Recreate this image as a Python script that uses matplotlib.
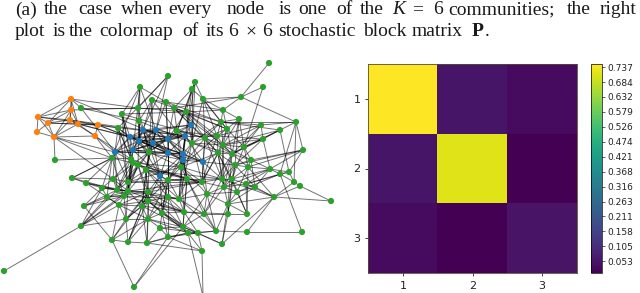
import matplotlib
matplotlib.use("Agg")
import matplotlib.pyplot as plt
import numpy as np

# node layout (orange 0-9, blue 10-24, green 25-127)
node_x = [71, 71, 38, 48, 70, 78, 98, 37, 54, 95,
          130, 143, 156, 139, 153, 168, 115, 133, 168, 160, 191, 185, 183, 183, 203,
          81, 140, 168, 152, 166, 138, 122, 139, 118, 55, 112, 149, 131, 133, 138,
          146, 72, 113, 86, 128, 102, 117, 128, 148, 124, 107, 168, 148, 84, 119,
          142, 162, 126, 148, 81, 160, 168, 112, 128, 147, 4, 134, 168, 195, 192,
          203, 174, 186, 241, 263, 223, 221, 239, 261, 296, 227, 280, 177, 217, 205,
          263, 192, 223, 244, 303, 218, 232, 251, 235, 248, 181, 270, 289, 280, 222,
          232, 187, 202, 224, 246, 255, 294, 300, 207, 237, 274, 331, 179, 228, 184,
          204, 228, 247, 183, 188, 198, 216, 247, 302, 222, 202, 269, 203]
node_y = [99, 110, 117, 123, 120, 124, 125, 132, 137, 136,
          137, 130, 130, 141, 143, 139, 152, 150, 153, 176, 125, 136, 154, 160, 162,
          108, 87, 76, 100, 102, 108, 114, 121, 128, 160, 158, 152, 159, 163, 165,
          170, 178, 179, 183, 182, 188, 190, 191, 192, 196, 197, 197, 201, 206, 205,
          206, 213, 219, 219, 226, 228, 237, 240, 242, 243, 271, 287, 180, 82, 89,
          99, 108, 112, 97, 87, 110, 122, 119, 125, 122, 129, 130, 131, 136, 138,
          139, 143, 145, 147, 150, 153, 154, 160, 165, 167, 167, 169, 172, 174, 179,
          179, 179, 182, 187, 184, 187, 182, 186, 194, 192, 197, 201, 199, 204, 212,
          214, 214, 214, 227, 233, 233, 231, 232, 232, 244, 251, 63, 296]
node_group = [1] * 10 + [0] * 15 + [2] * 103

edges = [
    # inside the orange community
    (0, 1), (0, 2), (0, 3), (0, 4), (0, 5), (1, 2), (1, 3), (1, 4), (1, 5), (1, 8),
    (2, 3), (2, 4), (2, 6), (2, 7), (2, 8), (3, 4), (3, 5), (3, 6), (3, 7), (3, 8),
    (4, 5), (4, 6), (4, 8), (4, 9), (5, 6), (5, 8), (5, 9), (6, 9), (7, 8), (8, 9),
    # orange to the rest
    (0, 25), (0, 30), (0, 15), (1, 30), (25, 30), (25, 16), (25, 32), (8, 34), (34, 35),
    (8, 16), (8, 35), (9, 35), (9, 16), (6, 33), (6, 10), (6, 21), (5, 10), (4, 11),
    (8, 42), (9, 37), (6, 13), (5, 14),
    # inside the blue community
    (10, 11), (10, 12), (10, 13), (10, 14), (10, 15), (10, 16), (10, 17), (10, 18), (10, 21),
    (11, 12), (11, 13), (11, 14), (11, 15), (11, 17), (11, 18), (11, 19), (11, 20), (11, 21),
    (12, 13), (12, 14), (12, 15), (12, 17), (12, 18), (12, 20), (12, 21), (12, 22),
    (13, 14), (13, 15), (13, 16), (13, 17), (13, 18), (13, 19), (13, 21), (13, 22), (13, 23),
    (14, 15), (14, 17), (14, 18), (14, 19), (14, 21), (14, 22), (14, 23), (14, 24),
    (15, 17), (15, 18), (15, 20), (15, 21), (15, 22), (15, 23), (15, 24),
    (16, 17), (16, 18), (16, 19), (16, 22), (17, 18), (17, 19), (17, 21), (17, 22), (17, 23),
    (18, 19), (18, 21), (18, 22), (18, 23), (18, 24), (19, 22), (19, 23),
    (20, 21), (21, 22), (21, 23), (21, 24), (22, 23), (22, 24), (23, 24),
    # green, top left
    (26, 31), (26, 35), (26, 29), (26, 30), (26, 32), (27, 30), (27, 33), (28, 29), (28, 32),
    (28, 14), (29, 71), (29, 15), (30, 71), (30, 13), (31, 10), (31, 37), (32, 11), (32, 13),
    (33, 10), (33, 16), (28, 72), (29, 76), (30, 72), (31, 72), (32, 86), (33, 36), (31, 84),
    (27, 14), (26, 12), (28, 82), (29, 75),
    # green, top right
    (73, 74), (73, 126), (70, 73), (71, 73), (73, 79), (73, 75), (74, 88), (75, 72), (75, 70),
    (75, 76), (75, 77), (75, 80), (76, 77), (76, 80), (77, 80), (78, 79), (78, 76), (78, 85),
    (81, 85), (81, 76), (81, 97), (85, 88), (85, 96), (85, 83), (79, 89), (79, 98), (89, 97),
    (89, 93), (89, 94), (96, 97), (97, 98), (96, 98), (92, 96), (92, 88), (94, 96), (88, 78),
    (88, 91), (68, 69), (68, 70), (69, 70), (69, 71), (69, 72), (69, 95), (70, 76), (70, 80),
    (71, 72), (71, 80), (71, 87), (71, 90), (72, 76), (72, 80), (72, 84), (72, 83), (72, 91),
    (68, 82), (69, 86), (70, 83), (70, 84), (80, 83), (80, 87), (80, 88), (80, 91), (77, 88),
    (77, 93), (76, 83), (76, 87), (83, 87), (84, 87), (84, 90), (86, 87), (86, 91), (82, 84),
    (82, 86), (82, 83), (87, 88), (87, 91), (87, 92), (90, 91), (90, 93), (91, 92), (91, 94),
    (92, 93), (92, 94), (93, 94), (88, 94), (88, 100), (93, 99), (93, 100), (94, 100), (83, 90),
    (84, 91), (86, 90), (95, 99), (95, 90), (95, 101), (95, 102), (20, 82), (20, 86), (21, 82),
    (21, 86), (20, 84), (21, 83), (22, 86), (24, 90), (24, 93), (24, 99), (24, 84), (23, 95),
    (79, 76), (79, 81), (81, 88), (78, 83), (85, 93), (85, 91),
    # green, bottom right
    (110, 111), (107, 111), (106, 107), (79, 106), (98, 106), (98, 123), (122, 123), (110, 122),
    (105, 110), (104, 110), (99, 110), (110, 113), (104, 105), (103, 104), (104, 117), (121, 122),
    (119, 121), (113, 121), (113, 124), (110, 124), (125, 127), (120, 125), (119, 125), (119, 127),
    (116, 124), (120, 124), (116, 117), (115, 116), (113, 116), (96, 105), (97, 106), (98, 104),
    (96, 104), (92, 105), (94, 110), (93, 105), (99, 103), (100, 103), (100, 104), (99, 100),
    (101, 102), (102, 103), (102, 99), (102, 108), (103, 108), (103, 109), (108, 109), (108, 113),
    (109, 113), (109, 117), (108, 115), (112, 108), (112, 114), (112, 115), (114, 115), (114, 118),
    (115, 121), (115, 118), (118, 119), (118, 120), (119, 120), (120, 121), (101, 112), (101, 114),
    (102, 112), (99, 113), (100, 116), (100, 117), (90, 103), (90, 109), (91, 108), (91, 113),
    (93, 103), (93, 116), (94, 109), (94, 117), (105, 109), (105, 113), (99, 115), (103, 115),
    (95, 112), (95, 114), (95, 108), (101, 115), (101, 118), (101, 121), (108, 118), (108, 121),
    (114, 120), (112, 121), (113, 117), (114, 116), (118, 124), (106, 110), (107, 110),
    # green, bottom left
    (59, 65), (45, 59), (49, 59), (46, 59), (57, 59), (53, 62), (62, 66), (61, 66), (62, 63),
    (63, 64), (57, 62), (54, 62), (48, 62), (48, 63), (58, 64), (55, 64), (60, 64), (57, 63),
    (45, 53), (50, 53), (54, 59), (41, 42), (35, 41), (41, 43), (43, 45), (43, 54), (41, 46),
    (35, 43), (35, 45), (45, 50), (45, 46), (50, 54), (42, 45), (42, 46), (42, 44), (44, 46),
    (44, 47), (44, 49), (46, 47), (46, 49), (47, 49), (49, 54), (49, 50), (47, 48), (47, 55),
    (48, 52), (48, 55), (52, 55), (52, 58), (55, 58), (55, 57), (54, 57), (54, 55), (57, 58),
    (56, 58), (56, 60), (58, 60), (60, 61), (51, 56), (51, 52), (52, 56), (51, 61), (61, 64),
    (56, 61), (67, 51), (67, 48), (67, 56), (40, 48), (40, 44), (40, 52), (40, 67), (38, 44),
    (38, 47), (39, 47), (39, 48), (37, 42), (37, 46), (36, 40), (36, 52), (36, 55), (35, 37),
    (35, 38), (38, 39), (39, 40), (37, 38), (36, 39),
    # across the middle
    (10, 35), (10, 37), (13, 36), (14, 36), (14, 40), (11, 36), (12, 36), (12, 40), (15, 36),
    (15, 67), (16, 42), (16, 44), (16, 46), (17, 44), (17, 47), (18, 40), (18, 51), (18, 67),
    (19, 67), (19, 48), (19, 52), (19, 51), (19, 56), (22, 67), (22, 101), (23, 67), (23, 101),
    (24, 102), (24, 108), (23, 112), (21, 95), (20, 72), (20, 71), (15, 71), (15, 72), (12, 29),
    (11, 28), (13, 32), (26, 17), (27, 17), (28, 36), (29, 18), (30, 36), (31, 38), (32, 39),
    (33, 37), (33, 38), (33, 44), (31, 47), (35, 49), (35, 50), (36, 95), (36, 82), (37, 101),
    (38, 95), (39, 101), (39, 102), (40, 102), (40, 112), (40, 99), (44, 95), (44, 101), (44, 102),
    (47, 102), (47, 112), (47, 114), (48, 102), (48, 112), (48, 114), (48, 118), (49, 112),
    (49, 114), (51, 112), (51, 114), (51, 118), (52, 114), (52, 118), (52, 119), (55, 114),
    (55, 118), (56, 114), (56, 119), (56, 120), (58, 118), (58, 119), (60, 118), (60, 120),
    (61, 119), (61, 125), (64, 119), (64, 125), (66, 118), (61, 120), (67, 95), (67, 112),
    (67, 102), (67, 99), (86, 95), (86, 112), (86, 102), (82, 95), (82, 101), (83, 95), (83, 102),
    (84, 95), (84, 102), (84, 99), (87, 99), (87, 102), (87, 103), (90, 99), (90, 100), (90, 102),
    (91, 99), (91, 103), (72, 86), (71, 82), (70, 86), (68, 86), (68, 95), (69, 82), (76, 86),
    (76, 84), (80, 86), (80, 90), (77, 91), (77, 87), (78, 87), (78, 91), (85, 87), (81, 87),
    (81, 91), (89, 92), (89, 96), (96, 100), (96, 103), (97, 104), (98, 109), (43, 46), (41, 35),
    (53, 49), (53, 46), (59, 50), (59, 47), (57, 47), (57, 49), (57, 48), (57, 52), (63, 52),
    (63, 55), (63, 58), (64, 52), (62, 58), (54, 58), (54, 48), (54, 52), (50, 47), (50, 48),
    (46, 48), (45, 47), (43, 47), (42, 47), (42, 49), (42, 36), (44, 36), (44, 39), (46, 38),
    (46, 39), (47, 38), (47, 37), (49, 39), (49, 40), (51, 40), (52, 39), (55, 40), (55, 67),
    (58, 67), (58, 51), (56, 67),
]

P = [[0.748, 0.052, 0.032],
     [0.052, 0.712, 0.011],
     [0.032, 0.011, 0.050]]
block_labels = ["1", "2", "3"]
cbar_ticks = [0.053, 0.105, 0.158, 0.211, 0.263, 0.316, 0.368, 0.421, 0.474,
              0.526, 0.579, 0.632, 0.684, 0.737]
cbar_labels = ["0.053", "0.105", "0.158", "0.211", "0.263", "0.316", "0.368", "0.421",
               "0.474", "0.526", "0.579", "0.632", "0.684", "0.737"]

line1_words = ["(a)", "the", "case", "when", "every", "node", "is", "one", "of", "the",
               "K", "=", "6", "communities;", "the", "right"]
line1_pos = [15, 44, 78, 121, 168, 227, 279, 298, 336, 360, 392, 412, 433, 448, 567, 600]
line2_words = ["plot", "is", "the", "colormap", "of", "its", "6", "×", "6", "stochastic",
               "block", "matrix", "P", "."]
line2_pos = [15, 53, 69, 99, 182, 206, 228, 245, 262, 278, 363, 412, 472, 485]

W, H = 640, 293
fig = plt.figure(figsize=(W / 100, H / 100), dpi=100)


def px_axes(left, top, right, bottom):
    return fig.add_axes([left / W, 1 - bottom / H, (right - left) / W, (bottom - top) / H])


# caption, word by word because the first line is justified
for word, x in zip(line1_words, line1_pos):
    style = "italic" if word == "K" else "normal"
    fig.text(x / W, 1 - 14.5 / H, word, family="Liberation Serif", fontsize=14, style=style,
             color="#1a1a1a", va="baseline")
for word, x in zip(line2_words, line2_pos):
    weight = "bold" if word == "P" else "normal"
    fig.text(x / W, 1 - 36 / H, word, family="Liberation Serif", fontsize=14, weight=weight,
             color="#1a1a1a", va="baseline")

# network
ax = px_axes(0, 50, 340, 293)
ax.set_xlim(0, 340)
ax.set_ylim(293, 50)
ax.axis("off")
for a, b in edges:
    ax.plot([node_x[a], node_x[b]], [node_y[a], node_y[b]], color="black", lw=0.7, alpha=0.55,
            zorder=1)
group_colors = ["#1f77b4", "#ff7f0e", "#2ca02c"]
ax.scatter(node_x, node_y, s=20, c=[group_colors[g] for g in node_group], linewidths=0, zorder=2)

# block matrix
ax2 = px_axes(368, 64, 577, 273)
im = ax2.imshow(P, cmap="viridis", vmin=0.011, vmax=0.748, aspect="auto")
ax2.set_xticks(range(3))
ax2.set_yticks(range(3))
ax2.set_xticklabels(block_labels)
ax2.set_yticklabels(block_labels)
ax2.tick_params(labelsize=8, length=2.5, width=0.6, pad=3, colors="#222222")
for s in ax2.spines.values():
    s.set_linewidth(0.6)
    s.set_color("#5a4a3a")

cax = px_axes(591, 64, 602, 273)
cbar = fig.colorbar(im, cax=cax)
cbar.set_ticks(cbar_ticks)
cbar.set_ticklabels(cbar_labels)
cbar.ax.tick_params(labelsize=6.5, length=2, width=0.5, pad=2, colors="#222222")
cbar.outline.set_linewidth(0.5)

fig.savefig("out.png", dpi=100)
